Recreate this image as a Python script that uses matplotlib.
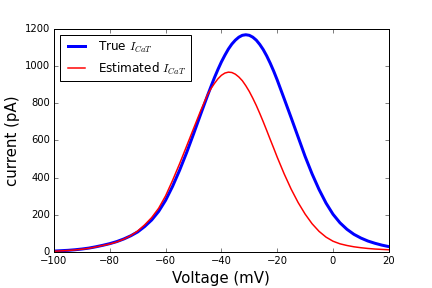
import numpy as np
import matplotlib
matplotlib.use("Agg")
import matplotlib.pyplot as plt

plt.style.use("classic")

# voltage grid (mV): 2.5 mV steps, 1.25 mV around the peaks
voltage = np.concatenate([np.arange(-100, -45, 2.5),
                          np.arange(-45, -20, 1.25),
                          np.arange(-20, 20.1, 2.5)])

# currents (pA)
true_ica = [5, 7, 9, 12, 16, 21, 28, 36, 45, 56, 70, 87, 108, 137, 172, 218,
            278, 353, 439, 533, 634, 738,
            840, 889, 937, 981, 1022, 1058, 1091, 1118, 1139, 1155, 1165, 1168,
            1165, 1155, 1139, 1116, 1088, 1054, 1015, 972,
            925, 824, 722, 618, 514, 420, 336, 263,
            203, 157, 122, 95, 75, 59, 47, 37, 29]

est_ica = [4, 6, 8, 11, 15, 20, 27, 35, 43, 54, 69, 88, 113, 146, 185, 235,
           302, 385, 474, 568, 663, 757,
           845, 878, 906, 931, 950, 962, 967, 965, 956, 941, 921, 894,
           863, 827, 788, 745, 700, 653, 605, 558,
           510, 420, 338, 266, 204, 152, 111, 80,
           58, 44, 35, 28, 23, 19, 16, 14, 12]

fig = plt.figure(figsize=(6, 4), dpi=72)
ax = fig.add_subplot(111)
fig.subplots_adjust(left=0.125, right=0.9, top=0.9, bottom=0.125)

ax.plot(voltage, true_ica, color="b", linewidth=3, label="True $I_{CaT}$")
ax.plot(voltage, est_ica, color="r", linewidth=1.5, label="Estimated $I_{CaT}$")

ax.set_xlim(-100, 20)
ax.set_ylim(0, 1200)
ax.set_xticks(np.arange(-100, 21, 20))
ax.set_yticks(np.arange(0, 1201, 200))
ax.tick_params(labelsize=10)

ax.set_xlabel("Voltage (mV)", fontsize=15)
ax.set_ylabel("current (pA)", fontsize=15)
ax.legend(loc="upper left", fontsize=12)

fig.savefig("out.png", dpi=72)
